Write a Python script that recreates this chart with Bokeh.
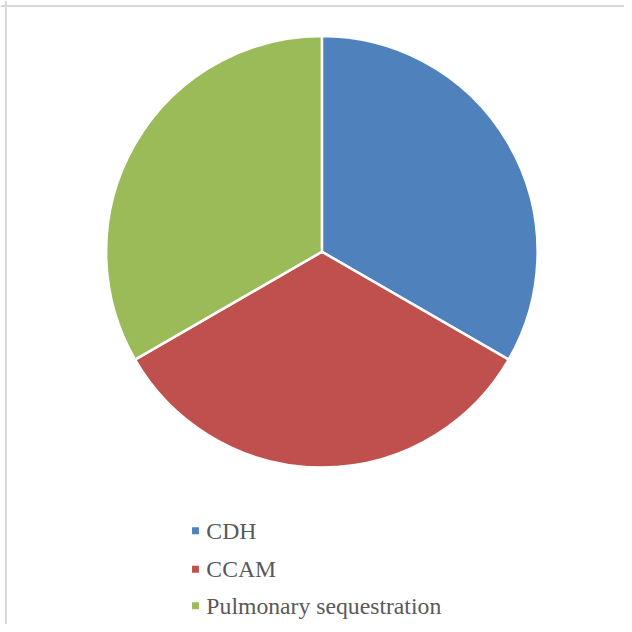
import numpy as np
from bokeh.plotting import figure
from bokeh.models import Range1d, Span
from bokeh.core.properties import value
from bokeh.embed import file_html
from bokeh.resources import INLINE

categories = ["CDH", "CCAM", "Pulmonary sequestration"]
values = [1, 1, 1]
colors = ["#4f81bd", "#c0504d", "#9bbb59"]

W = H = 624
S = 632
k = W / S
p = figure(width=W, height=H, output_backend="svg", toolbar_location=None,
           x_range=Range1d(0, S), y_range=Range1d(0, S), min_border=0)
p.axis.visible = False
p.grid.visible = False
p.outline_line_color = None
p.background_fill_color = "white"

def sy(screen_y):
    return S - screen_y

vals = np.array(values, dtype=float)
frac = vals / vals.sum()
cum = np.concatenate([[0], np.cumsum(frac)])
starts = np.pi / 2 - cum[1:] * 2 * np.pi
ends = np.pi / 2 - cum[:-1] * 2 * np.pi

cx, cy, r = 325.5, sy(254.5), 218.5
p.wedge(x=[cx] * len(values), y=[cy] * len(values), radius=r, radius_units="data",
        start_angle=list(starts), end_angle=list(ends), direction="anticlock",
        fill_color=colors, line_color="white", line_width=2.5)

# legend
row_y = [sy(537), sy(576), sy(613)]
p.scatter(x=[197.5] * 3, y=row_y, marker="square", size=7 * k, fill_color=colors, line_color=None)
p.text(x=[208.5] * 3, y=row_y, text=categories,
       text_font=value("Liberation Serif"),
       text_font_size=f"{24 * k:.1f}px", text_color="#595959",
       text_baseline="middle", text_align="left")

# chart area border (left and top)
p.add_layout(Span(location=5.5, dimension="height", line_color="#d9d9d9", line_width=2))
p.add_layout(Span(location=sy(5.5), dimension="width", line_color="#d9d9d9", line_width=2))

open("out.html", "w").write(file_html(p, INLINE))
